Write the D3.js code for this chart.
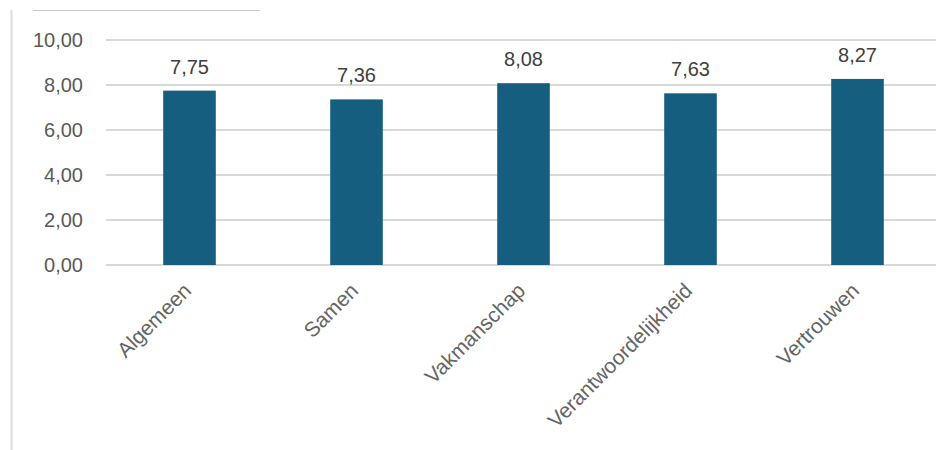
<!DOCTYPE html>
<html>
<head>
<meta charset="utf-8">
<script src="https://cdn.jsdelivr.net/npm/d3@7"></script>
<style>
    body { margin: 0; background: #fff; }
    svg { display: block; font-family: "Liberation Sans", Arial, sans-serif; }
</style>
</head>
<body>
<svg id="chart" width="936" height="450"></svg>
<script>
// data
let categories = ["Algemeen", "Samen", "Vakmanschap", "Verantwoordelijkheid", "Vertrouwen"];
let scores = [7.75, 7.36, 8.08, 7.63, 8.27];
let yTicks = [0, 2, 4, 6, 8, 10];

let svg = d3.select("#chart");

// frame bits (chart area border remnants)
svg.append("line")
    .attr("x1", 33).attr("x2", 260)
    .attr("y1", 10.5).attr("y2", 10.5)
    .attr("stroke", "#c8c8c8")
    .attr("stroke-width", 1);

svg.append("line")
    .attr("x1", 11.5).attr("x2", 11.5)
    .attr("y1", 10).attr("y2", 450)
    .attr("stroke", "#dcdcdc")
    .attr("stroke-width", 2);

// scales
let x = d3.scaleBand()
    .domain(categories)
    .range([106, 941])
    .paddingInner(0.685)
    .paddingOuter(0.3425);

let y = d3.scaleLinear()
    .domain([0, 10])
    .range([265, 40]);

let fmt = v => d3.format(".2f")(v).replace(".", ",");

// gridlines
svg.append("g")
    .selectAll("line")
    .data(yTicks)
    .join("line")
    .attr("x1", 106)
    .attr("x2", 936)
    .attr("y1", d => y(d))
    .attr("y2", d => y(d))
    .attr("stroke", "#d9d9d9")
    .attr("stroke-width", 2);

// y axis labels
svg.append("g")
    .selectAll("text")
    .data(yTicks)
    .join("text")
    .attr("x", 83)
    .attr("y", d => y(d))
    .attr("dy", "0.36em")
    .attr("text-anchor", "end")
    .attr("font-size", 20)
    .attr("fill", "#595959")
    .text(d => fmt(d));

// bars
svg.append("g")
    .selectAll("rect")
    .data(scores)
    .join("rect")
    .attr("x", (d, i) => x(categories[i]))
    .attr("y", d => y(d))
    .attr("width", x.bandwidth())
    .attr("height", d => y(0) - y(d))
    .attr("fill", "#165e80");

// value labels
svg.append("g")
    .selectAll("text")
    .data(scores)
    .join("text")
    .attr("x", (d, i) => x(categories[i]) + x.bandwidth() / 2)
    .attr("y", d => y(d) - 17)
    .attr("text-anchor", "middle")
    .attr("font-size", 20)
    .attr("fill", "#404040")
    .text(d => fmt(d));

// category labels, rotated
svg.append("g")
    .selectAll("text")
    .data(categories)
    .join("text")
    .attr("transform", d => {
        let cx = x(d) + x.bandwidth() / 2 + 3;
        return "translate(" + cx + ",292) rotate(-45)";
    })
    .attr("text-anchor", "end")
    .attr("font-size", 21)
    .attr("fill", "#656565")
    .text(d => d);
</script>
</body>
</html>
